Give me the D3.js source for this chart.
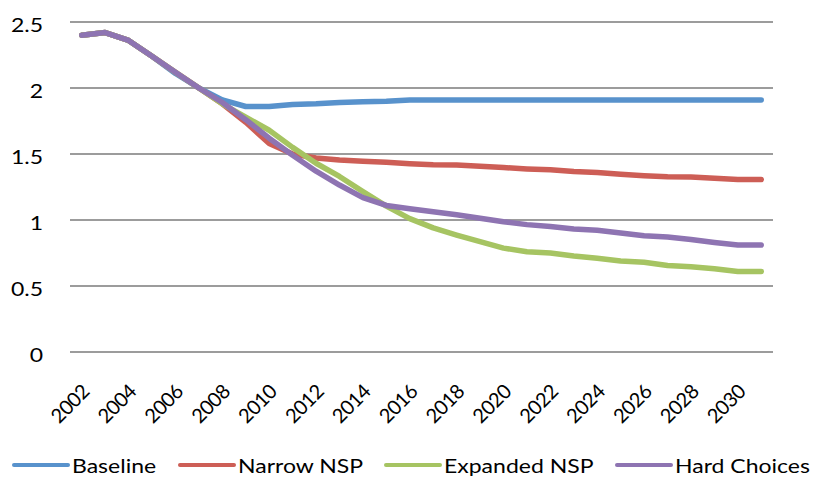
<!DOCTYPE html>
<html>
<head>
<meta charset="utf-8">
<script src="https://cdn.jsdelivr.net/npm/d3@7"></script>
<style>
  html, body { margin: 0; padding: 0; background: #fff; }
  svg { display: block; }
  text { font-family: Lato, "Open Sans", sans-serif; fill: #000; }
</style>
</head>
<body>
<svg id="chart" width="814" height="477"></svg>
<script>
// Years on the category axis
const years = d3.range(2002, 2032);
// Labelled years (every other year)
const yearLabels = d3.range(2002, 2031, 2);
// Y tick values
const yTicks = [0, 0.5, 1, 1.5, 2, 2.5];

// Scenario series
const seriesNames = ["Baseline", "Narrow NSP", "Expanded NSP", "Hard Choices"];
const baseline = [2.40, 2.42, 2.36, 2.24, 2.11, 2.00, 1.91, 1.86, 1.86, 1.875,
                  1.88, 1.89, 1.895, 1.90, 1.91, 1.91, 1.91, 1.91, 1.91, 1.91,
                  1.91, 1.91, 1.91, 1.91, 1.91, 1.91, 1.91, 1.91, 1.91, 1.91];
const narrowNSP = [2.40, 2.42, 2.36, 2.24, 2.12, 2.00, 1.88, 1.74, 1.58, 1.50,
                   1.47, 1.455, 1.445, 1.437, 1.426, 1.418, 1.416, 1.407, 1.397, 1.387,
                   1.38, 1.368, 1.36, 1.347, 1.336, 1.328, 1.326, 1.316, 1.306, 1.306];
const expandedNSP = [2.40, 2.42, 2.36, 2.24, 2.12, 2.00, 1.88, 1.78, 1.68, 1.55,
                     1.43, 1.33, 1.215, 1.105, 1.01, 0.94, 0.886, 0.836, 0.787, 0.76,
                     0.75, 0.728, 0.71, 0.69, 0.68, 0.656, 0.645, 0.63, 0.61, 0.61];
const hardChoices = [2.40, 2.42, 2.36, 2.24, 2.12, 2.00, 1.89, 1.76, 1.62, 1.49,
                     1.37, 1.265, 1.17, 1.11, 1.085, 1.063, 1.04, 1.013, 0.987, 0.965,
                     0.95, 0.932, 0.922, 0.902, 0.881, 0.871, 0.853, 0.83, 0.81, 0.81];
const seriesColors = ["#5892cc", "#cd5e56", "#a6c462", "#8e74b2"];

const series = [baseline, narrowNSP, expandedNSP, hardChoices].map((vals, i) => ({
  name: seriesNames[i],
  color: seriesColors[i],
  values: vals.map((v, j) => ({ year: years[j], v }))
}));

const svg = d3.select("#chart");
const plot = { left: 70, right: 773, top: 22, bottom: 352 };
const textScaleX = 1.15;

const x = d3.scalePoint().domain(years).range([plot.left, plot.right]).padding(0.5);
const y = d3.scaleLinear().domain([0, 2.5]).range([plot.bottom, plot.top]);

// Horizontal gridlines
svg.append("g")
  .selectAll("line")
  .data(yTicks)
  .join("line")
  .attr("x1", plot.left).attr("x2", plot.right)
  .attr("y1", d => y(d)).attr("y2", d => y(d))
  .attr("stroke", "#9c9c9c")
  .attr("stroke-width", 2);

// Y-axis labels
svg.append("g")
  .selectAll("text")
  .data(yTicks)
  .join("text")
  .attr("transform", d => `translate(43,${y(d) + 9.5}) scale(${textScaleX},1)`)
  .attr("text-anchor", "end")
  .attr("font-size", 20)
  .text(d => d3.format("~g")(d));

// X-axis labels, rotated
svg.append("g")
  .selectAll("text")
  .data(yearLabels)
  .join("text")
  .attr("transform", d => `translate(${x(d) + 9},${plot.bottom + 41}) rotate(-45)`)
  .attr("text-anchor", "end")
  .attr("font-size", 20)
  .attr("letter-spacing", -0.5)
  .text(d => d);

// Series lines
const line = d3.line()
  .x(d => x(d.year))
  .y(d => y(d.v));

svg.append("g")
  .selectAll("path")
  .data(series)
  .join("path")
  .attr("d", d => line(d.values))
  .attr("fill", "none")
  .attr("stroke", d => d.color)
  .attr("stroke-width", 5.5)
  .attr("stroke-linejoin", "round")
  .attr("stroke-linecap", "round");

// Legend
const legendX = [14, 180, 386, 617];
const legend = svg.append("g")
  .selectAll("g")
  .data(series)
  .join("g")
  .attr("transform", (d, i) => `translate(${legendX[i]},465)`);
legend.append("line")
  .attr("x1", 0).attr("x2", 54)
  .attr("y1", 0).attr("y2", 0)
  .attr("stroke", d => d.color)
  .attr("stroke-width", 4)
  .attr("stroke-linecap", "round");
legend.append("text")
  .attr("transform", `translate(58,8) scale(${textScaleX},1)`)
  .attr("font-size", 20)
  .text(d => d.name);
</script>
</body>
</html>
